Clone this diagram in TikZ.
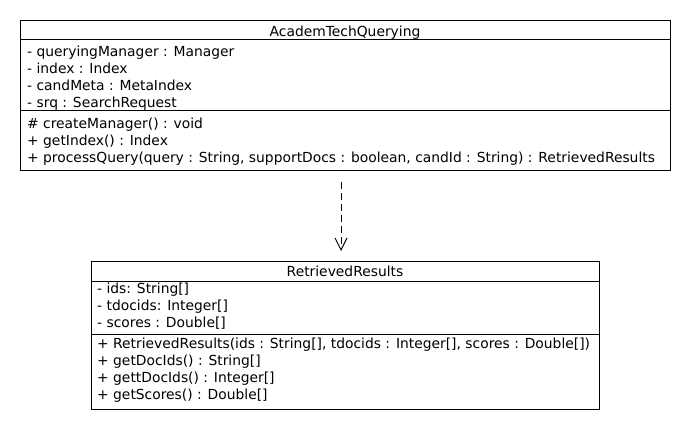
\documentclass[tikz,border=0pt]{standalone}
\usepackage{fontspec}
\setmainfont{DejaVu Sans}
\usetikzlibrary{arrows.meta}
\tikzset{
  classbox/.style={draw, line width=1pt, anchor=north west, inner sep=0pt},
  txt/.style={anchor=base west, inner sep=0pt, font=\fontsize{13.85}{17}\selectfont},
  ttl/.style={anchor=base, inner sep=0pt, font=\fontsize{13.85}{17}\selectfont},
  sep/.style={line width=1pt},
  dep/.style={line width=1pt, dash pattern=on 7pt off 4pt, -{Straight Barb[length=12pt,width=12pt,line width=1pt]}}
}
\begin{document}
\begin{tikzpicture}[x=1pt,y=-1pt]
\useasboundingbox (0,0) rectangle (690,430);
% class 1
\node[classbox, minimum width=650pt, minimum height=150pt] (c1) at (20,20) {};
\draw[sep] (20,40) -- (670,40);
\draw[sep] (20,111) -- (670,111);
\node[ttl] (c1t) at (345,36.5) {AcademTechQuerying};
\node[txt] (c1a1) at (27,56.5) {- queryingManager : Manager};
\node[txt] (c1a2) at (27,73.5) {- index : Index};
\node[txt] (c1a3) at (27,90.5) {- candMeta : MetaIndex};
\node[txt] (c1a4) at (27,107.5) {- srq : SearchRequest};
\node[txt] (c1m1) at (27,128.5) {\# createManager() : void};
\node[txt] (c1m2) at (27,145.5) {+ getIndex() : Index};
\node[txt] (c1m3) at (27,162.5) {+ processQuery(query : String, supportDocs : boolean, candId : String) : RetrievedResults};
% class 2
\node[classbox, minimum width=508pt, minimum height=148pt] (c2) at (91,261) {};
\draw[sep] (91,281) -- (599,281);
\draw[sep] (91,334) -- (599,334);
\node[ttl] (c2t) at (345,276.5) {RetrievedResults};
\node[txt] (c2a1) at (97,293.5) {- ids: String[]};
\node[txt] (c2a2) at (97,310.5) {- tdocids: Integer[]};
\node[txt] (c2a3) at (97,327.5) {- scores : Double[]};
\node[txt] (c2m1) at (97,348.5) {+ RetrievedResults(ids : String[], tdocids : Integer[], scores : Double[])};
\node[txt] (c2m2) at (97,365.5) {+ getDocIds() : String[]};
\node[txt] (c2m3) at (97,382.5) {+ gettDocIds() : Integer[]};
\node[txt] (c2m4) at (97,399.5) {+ getScores() : Double[]};
% dependency
\coordinate (s) at (341,182);
\coordinate (e) at (341,251);
\draw[dep] (s) -- (e);
\end{tikzpicture}
\end{document}
